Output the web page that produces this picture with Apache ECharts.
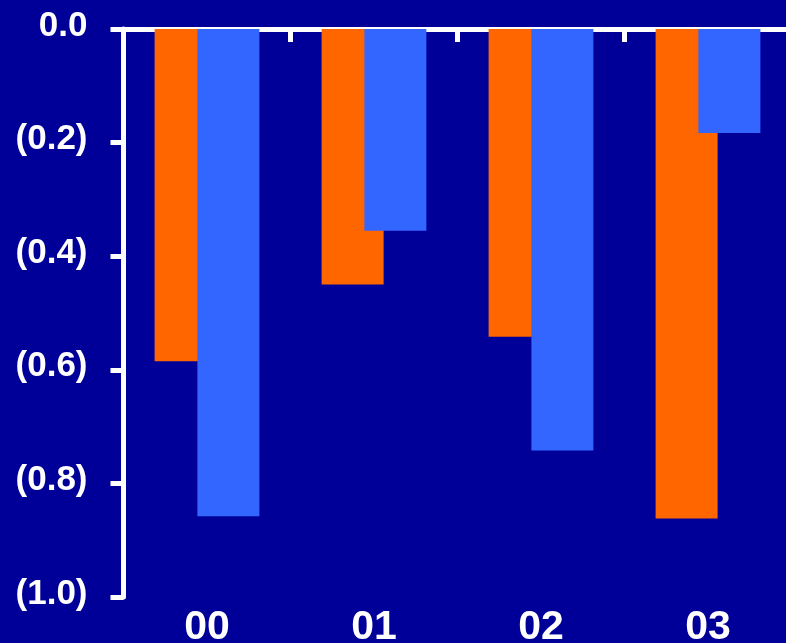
<!DOCTYPE html>
<html>
<head>
<meta charset="utf-8">
<style>
  html, body { margin: 0; padding: 0; background: #000099; }
  #chart { width: 786px; height: 643px; }
</style>
<script src="https://cdn.jsdelivr.net/npm/echarts@6/dist/echarts.min.js"></script>
</head>
<body>
<div id="chart"></div>
<script>
// Fiscal years shown along the bottom
const years = ['00', '01', '02', '03'];
// Two series of negative values per year
const seriesA = [-0.585, -0.45, -0.542, -0.862];
const seriesB = [-0.858, -0.355, -0.742, -0.183];
// Value axis range and step
const yMin = -1.0;
const yMax = 0.0;
const yStep = 0.2;

const fontFam = '"Liberation Sans", Arial, sans-serif';

function fmt(v) {
  const a = Math.abs(v).toFixed(1);
  return v < 0 ? '(' + a + ')' : a;
}

const chart = echarts.init(document.getElementById('chart'), null, { renderer: 'canvas' });
chart.setOption({
  backgroundColor: '#000099',
  animation: false,
  grid: {
    left: 123.5, top: 29, width: 668, height: 568,
    containLabel: false,
    outerBoundsMode: 'none'
  },
  xAxis: [
    {
      type: 'category',
      data: years,
      position: 'bottom',
      axisLine: { show: true, onZero: true, lineStyle: { color: '#ffffff', width: 5 } },
      axisTick: { show: true, length: 13, lineStyle: { color: '#ffffff', width: 5 } },
      axisLabel: { show: false },
      splitLine: { show: false }
    },
    {
      type: 'category',
      data: years,
      position: 'bottom',
      axisLine: { show: false, onZero: false },
      axisTick: { show: false },
      axisLabel: {
        show: true,
        color: '#ffffff',
        fontFamily: fontFam,
        fontWeight: 'bold',
        fontSize: 41,
        verticalAlign: 'middle',
        margin: 31
      },
      splitLine: { show: false }
    }
  ],
  yAxis: {
    type: 'value',
    min: yMin,
    max: yMax,
    interval: yStep,
    axisLine: { show: true, onZero: false, lineStyle: { color: '#ffffff', width: 5 } },
    axisTick: { show: true, length: 13, lineStyle: { color: '#ffffff', width: 5 } },
    splitLine: { show: false },
    axisLabel: {
      color: '#ffffff',
      fontFamily: fontFam,
      fontWeight: 'bold',
      fontSize: 35,
      margin: 36,
      verticalAlign: 'bottom',
      lineHeight: 6,
      formatter: fmt
    }
  },
  series: [
    {
      type: 'bar',
      data: seriesA,
      barWidth: 62,
      barGap: '-31%',
      itemStyle: { color: '#ff6600' },
      z: 1
    },
    {
      type: 'bar',
      data: seriesB,
      barWidth: 62,
      barGap: '-31%',
      itemStyle: { color: '#3366ff' },
      z: 2
    }
  ]
});
</script>
</body>
</html>
